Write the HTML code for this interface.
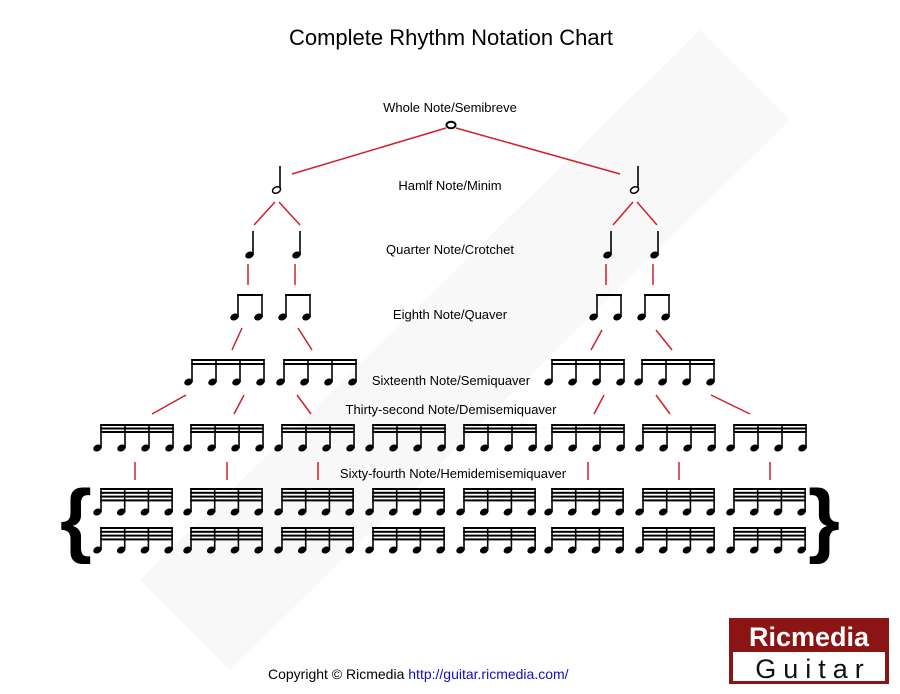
<!DOCTYPE html>
<html><head><meta charset="utf-8"><style>
html,body{margin:0;padding:0;background:#fff;width:900px;height:694px;overflow:hidden;font-family:"Liberation Sans",Arial,sans-serif}
</style></head><body>
<svg id="s" width="900" height="694" viewBox="0 0 900 694" xmlns="http://www.w3.org/2000/svg" font-family="Liberation Sans, Arial, sans-serif">
<polygon points="140,580 700,30 790,120 230,670" fill="#f8f8f8"/>
<text x="451" y="45" font-size="22" text-anchor="middle">Complete Rhythm Notation Chart</text>
<g font-size="13" text-anchor="middle">
<text x="450" y="112">Whole Note/Semibreve</text>
<text x="450" y="190">Hamlf Note/Minim</text>
<text x="450" y="254">Quarter Note/Crotchet</text>
<text x="450" y="319">Eighth Note/Quaver</text>
<text x="451" y="385">Sixteenth Note/Semiquaver</text>
<text x="451" y="414">Thirty-second Note/Demisemiquaver</text>
<text x="453" y="478">Sixty-fourth Note/Hemidemisemiquaver</text>
</g>
<g stroke="#d0202a" stroke-width="1.5">
<line x1="446" y1="128" x2="292" y2="174"/><line x1="456" y1="128" x2="620" y2="174"/>
<line x1="275" y1="202" x2="254" y2="225"/><line x1="279" y1="202" x2="300" y2="225"/>
<line x1="633" y1="202" x2="613" y2="225"/><line x1="637" y1="202" x2="657" y2="225"/>
<line x1="248" y1="264" x2="248" y2="285"/><line x1="295" y1="264" x2="295" y2="285"/>
<line x1="606" y1="264" x2="606" y2="285"/><line x1="653" y1="264" x2="653" y2="285"/>
<line x1="242" y1="328" x2="232" y2="350"/><line x1="298" y1="328" x2="312" y2="350"/>
<line x1="602" y1="330" x2="591" y2="350"/><line x1="656" y1="330" x2="672" y2="350"/>
<line x1="186" y1="395" x2="152" y2="414"/><line x1="244" y1="395" x2="234" y2="414"/><line x1="297" y1="395" x2="311" y2="414"/>
<line x1="604" y1="395" x2="594" y2="414"/><line x1="656" y1="395" x2="670" y2="414"/><line x1="711" y1="395" x2="750" y2="414"/>
<line x1="135" y1="462" x2="135" y2="480"/><line x1="227" y1="462" x2="227" y2="480"/><line x1="318" y1="462" x2="318" y2="480"/>
<line x1="588" y1="462" x2="588" y2="480"/><line x1="679" y1="462" x2="679" y2="480"/><line x1="770" y1="462" x2="770" y2="480"/>
</g>
<ellipse cx="451" cy="125" rx="4.5" ry="3.2" fill="none" stroke="#000" stroke-width="2"/>
<g id="n"></g>
<text x="60" y="547" font-size="82" font-weight="bold">{</text>
<text x="808" y="547" font-size="82" font-weight="bold">}</text>
<text x="268" y="679" font-size="14">Copyright © Ricmedia <tspan fill="#1010c0">http://guitar.ricmedia.com/</tspan></text>
<rect x="729" y="618" width="160" height="66" fill="#8b1414"/>
<rect x="733" y="652" width="152" height="29" fill="#fff"/>
<text x="809" y="646" font-size="27" font-weight="bold" fill="#fff" text-anchor="middle">Ricmedia</text>
<text x="813" y="678" font-size="27" fill="#111" text-anchor="middle" letter-spacing="7">Guitar</text>
</svg>
<script>
var g=document.getElementById('n'),h='';
function head(x,y,open){h+='<ellipse cx="'+(x-3.5)+'" cy="'+y+'" rx="4.2" ry="3" transform="rotate(-25 '+(x-3.5)+' '+y+')" fill="'+(open?'#fff':'#000')+'" stroke="#000" stroke-width="'+(open?1.5:0.5)+'"/>';}
function stem(x,y1,y2){h+='<line x1="'+x+'" y1="'+y1+'" x2="'+x+'" y2="'+y2+'" stroke="#000" stroke-width="1.6"/>';}
function single(x,top,y,open){stem(x,top,y);head(x,y,open);}
single(280,166,190,true);single(638,166,190,true);
[253,300,611,658].forEach(function(x){single(x,231,255,false)});
function group(x0,n,sp,top,y,beams,gap){
 for(var i=0;i<n;i++){var x=x0+i*sp;stem(x,top,y);head(x,y,false);}
 for(var b=0;b<beams;b++){h+='<rect x="'+(x0-0.8)+'" y="'+(top+b*gap)+'" width="'+((n-1)*sp+1.6)+'" height="2" fill="#000"/>';}
}
[238,286,597,645].forEach(function(x){group(x,2,24,294,317,1,0)});
[192,284,552,642].forEach(function(x){group(x,4,24,359,382,2,4)});
var s32=[101,191,282,373,464,552,643,734];
s32.forEach(function(x){group(x,4,24,424,448,3,3.5)});
s32.forEach(function(x){group(x,4,23.7,488,512,4,3.8)});
s32.forEach(function(x){group(x,4,23.7,527,550,4,3.8)});
g.innerHTML=h;
</script>
</body></html>
